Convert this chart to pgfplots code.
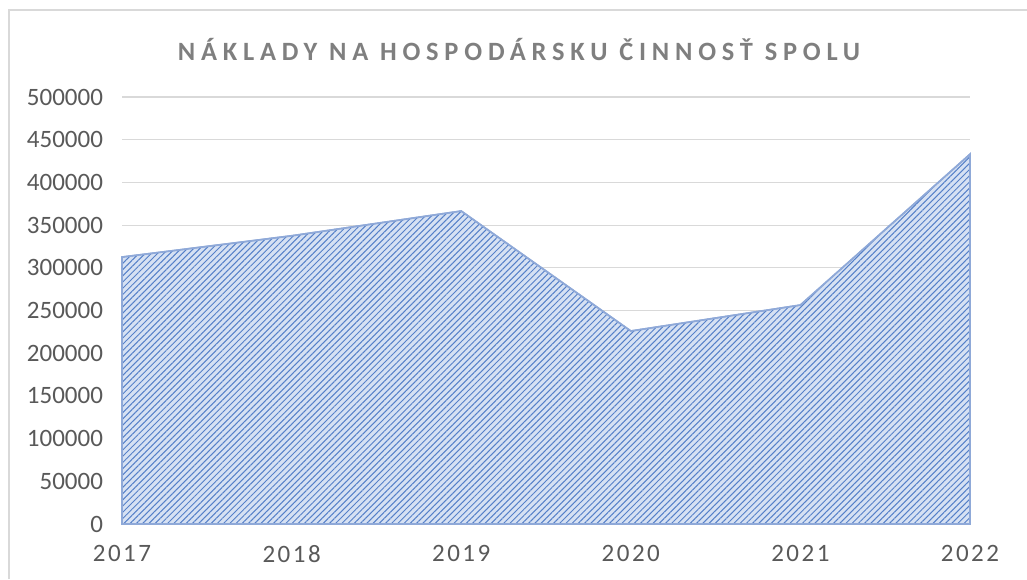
\documentclass[border=0pt]{standalone}
\usepackage{fontspec}
\setmainfont{Carlito}
\newfontfamily\titlefont[LetterSpace=22]{Carlito}
\newfontfamily\xfont[LetterSpace=10]{Carlito}
\usepackage{pgfplots}
\pgfplotsset{compat=1.18}
\usetikzlibrary{patterns.meta}
\definecolor{txt}{HTML}{595959}
\definecolor{ttl}{HTML}{7F7F7F}
\definecolor{gridc}{HTML}{D9D9D9}
\definecolor{areafill}{HTML}{D6E1F3}
\definecolor{stripe}{HTML}{5580C8}
\definecolor{edge}{HTML}{8FA9D8}
\begin{document}
\begin{tikzpicture}
\path[use as bounding box] (0,0) rectangle (513.5pt,289.5pt);
\draw[gridc, line width=0.8pt] (4.5pt,0) -- (4.5pt,284.5pt) -- (513.5pt,284.5pt);
\node[font=\titlefont\bfseries\fontsize{13.2}{15}\selectfont, text=ttl] at (259.5pt,264.5pt) {NÁKLADY NA HOSPODÁRSKU ČINNOSŤ SPOLU};
\begin{axis}[
  at={(61pt,27.5pt)}, anchor=south west,
  scale only axis, width=424pt, height=213.5pt,
  xmin=2017, xmax=2022, ymin=0, ymax=500000,
  xtick={2017,2018,2019,2020,2021,2022},
  xticklabels={2017,2018,2019,2020,2021,2022},
  ytick distance=50000,
  ymajorgrids, grid style={color=gridc, line width=0.6pt},
  axis line style={draw=none}, tick style={draw=none},
  scaled y ticks=false,
  /pgf/number format/assume math mode=true,
  yticklabel style={/pgf/number format/fixed, /pgf/number format/1000 sep={}, font=\fontsize{12.5}{14}\selectfont, text=txt, xshift=-6pt},
  xticklabel style={font=\xfont\fontsize{12.5}{14}\selectfont, text=txt, yshift=-7pt},
  clip=false,
]
\addplot[draw=edge, line width=0.8pt, fill=areafill,
  postaction={pattern={Lines[angle=45,distance=2.2pt,line width=0.5pt]}, pattern color=stripe}]
  coordinates {(2017,312600) (2018,337500) (2019,366500) (2020,226000) (2021,256400) (2022,433000)} \closedcycle;
\end{axis}
\end{tikzpicture}
\end{document}
